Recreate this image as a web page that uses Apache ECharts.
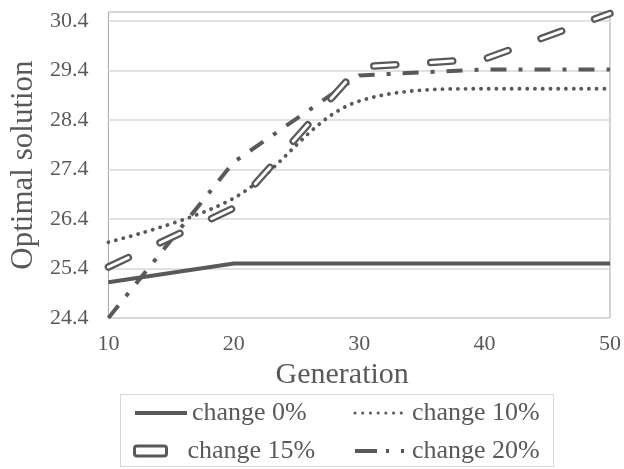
<!DOCTYPE html>
<html>
<head>
<meta charset="utf-8">
<script src="https://cdn.jsdelivr.net/npm/echarts@6/dist/echarts.min.js"></script>
<style>
  html, body { margin: 0; padding: 0; background: #fff; }
  #chart { width: 624px; height: 469px; }
</style>
</head>
<body>
<div id="chart"></div>
<script>
// values
const generations = [10, 20, 30, 40, 50];
const change0 = [25.12, 25.5, 25.5, 25.5, 25.5];
const change10 = [25.93, 26.82, 28.78, 29.03, 29.03];
const change15 = [25.43, 26.62, 29.47, 29.63, 30.55];
const change20 = [24.4, 27.55, 29.3, 29.42, 29.42];
const seriesNames = ['change 0%', 'change 10%', 'change 15%', 'change 20%'];

const yMin = 24.4, yMax = 30.58, yStep = 1;
const xMin = 10, xMax = 50, xStep = 10;

const ink = '#595959';
const font = 'Liberation Serif';

const pairs = (ys) => generations.map((g, i) => [g, ys[i]]);

const chart = echarts.init(document.getElementById('chart'));

const legendBase = {
    orient: 'vertical',
    top: 395,
    itemWidth: 52,
    itemHeight: 10,
    itemGap: 12,
    selectedMode: false,
    itemStyle: { opacity: 0 },
    textStyle: { fontFamily: font, fontSize: 26, color: ink }
};

chart.setOption({
    animation: false,
    backgroundColor: '#fff',
    grid: { left: 98, right: 10, top: 12, bottom: 151, show: true, borderColor: '#a6a6a6', borderWidth: 1 },
    legend: [
        { ...legendBase, left: 128, data: [{ name: seriesNames[0], lineStyle: { width: 4 } }] },
        { ...legendBase, left: 128, top: 433, itemWidth: 32,
          textStyle: { ...legendBase.textStyle, padding: [0, 0, 0, 16] },
          data: [{ name: seriesNames[2], icon: 'roundRect', itemStyle: { color: '#fff', borderColor: ink, borderWidth: 3, opacity: 1 } }] },
        { ...legendBase, left: 348, data: [
            { name: seriesNames[1], lineStyle: { width: 3 } },
            { name: seriesNames[3], lineStyle: { width: 4, type: [22, 9, 3, 12, 3, 40] } }
        ] }
    ],
    graphic: [{
        type: 'rect',
        shape: { x: 120.5, y: 394.5, width: 433, height: 72 },
        style: { fill: 'none', stroke: '#b0b0b0', lineWidth: 1, lineDash: [1, 1] },
        silent: true
    }],
    xAxis: {
        type: 'value', min: xMin, max: xMax, interval: xStep,
        name: 'Generation', nameLocation: 'middle', nameGap: 32,
        nameTextStyle: { fontFamily: font, fontSize: 30, color: ink, padding: [0, 34, 0, 0] },
        axisLine: { show: false }, axisTick: { show: false },
        splitLine: { show: false },
        axisLabel: { fontFamily: font, fontSize: 22, color: ink, margin: 15 }
    },
    yAxis: {
        type: 'value', min: yMin, max: yMax, interval: yStep,
        name: 'Optimal solution', nameLocation: 'middle', nameGap: 63,
        nameTextStyle: { fontFamily: font, fontSize: 31, color: ink },
        axisLine: { show: false }, axisTick: { show: false },
        splitLine: { lineStyle: { color: '#d9d9d9', width: 1.5 } },
        axisLabel: {
            fontFamily: font, fontSize: 22, color: ink, margin: 20,
            showMaxLabel: false,
            formatter: (v) => v > 30.45 ? '' : v.toFixed(1)
        }
    },
    series: [
        { name: seriesNames[0], type: 'line', symbol: 'none', data: pairs(change0),
          lineStyle: { color: ink, width: 4 }, itemStyle: { color: ink } },
        { name: seriesNames[1], type: 'line', symbol: 'none', smooth: 0.35, data: pairs(change10),
          lineStyle: { color: ink, width: 3.8, type: [0.1, 7.6], cap: 'round' }, itemStyle: { color: ink } },
        { name: seriesNames[3], type: 'line', symbol: 'none', data: pairs(change20),
          lineStyle: { color: ink, width: 4, type: [16, 12, 4, 12] }, itemStyle: { color: ink } },
        { name: seriesNames[2], type: 'line', symbol: 'none', data: pairs(change15),
          lineStyle: { color: ink, width: 7.5, type: [22, 35], cap: 'round' }, itemStyle: { color: ink } },
        { name: seriesNames[2] + ' inner', type: 'line', symbol: 'none', data: pairs(change15),
          lineStyle: { color: '#fff', width: 3, type: [22, 35], cap: 'round' }, itemStyle: { color: '#fff' } }
    ]
});
</script>
</body>
</html>
